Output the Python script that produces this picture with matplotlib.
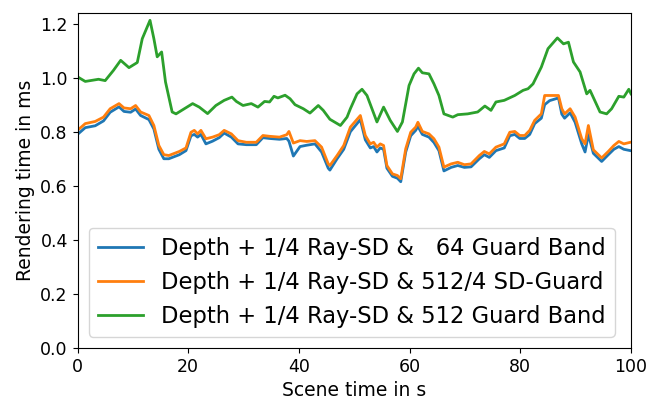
import matplotlib
matplotlib.use("Agg")
import matplotlib.pyplot as plt

# Green series: Depth + 1/4 Ray-SD & 512 Guard Band
x_green = [0, 1.4, 3.8, 5, 6.5, 7.8, 9.3, 10.8, 11.7, 13.1, 13.8, 14.4, 15.2, 15.9, 17.1, 17.8,
           20.8, 22, 23.5, 25, 26.5, 27.9, 28.7, 29.9, 31.4, 32.6, 33.8, 34.7, 35.5, 36.2, 37.5,
           38.4, 39.3, 40.8, 42, 43.5, 44.4, 45.6, 47.5, 48.7, 49.3, 50.5, 51.4, 52.3, 54.1, 55.3,
           56.5, 57.8, 58.7, 59.9, 60.8, 61.6, 62.3, 63.5, 64.4, 65.3, 66.2, 67.8, 68.7, 70.5,
           72.3, 73.6, 74.7, 75.6, 77.1, 79.0, 80.5, 81.4, 82.3, 83.8, 85.0, 86.7, 87.8, 88.7,
           89.6, 90.8, 92.0, 92.6, 94.4, 95.6, 96.5, 97.8, 98.7, 99.6, 100]
y_green = [1.003, 0.986, 0.994, 0.989, 1.027, 1.064, 1.037, 1.056, 1.144, 1.212, 1.144, 1.077,
           1.095, 0.984, 0.873, 0.866, 0.904, 0.891, 0.867, 0.897, 0.916, 0.928, 0.912, 0.897,
           0.904, 0.891, 0.912, 0.910, 0.931, 0.925, 0.935, 0.922, 0.900, 0.885, 0.869, 0.897,
           0.879, 0.846, 0.823, 0.854, 0.885, 0.940, 0.957, 0.934, 0.836, 0.891, 0.842, 0.801,
           0.836, 0.971, 1.014, 1.035, 1.018, 1.014, 0.977, 0.934, 0.866, 0.854, 0.863, 0.866,
           0.873, 0.895, 0.879, 0.910, 0.916, 0.934, 0.953, 0.959, 0.977, 1.039, 1.107, 1.147,
           1.125, 1.131, 1.058, 1.021, 0.940, 0.953, 0.873, 0.866, 0.885, 0.931, 0.928, 0.957,
           0.940]

# Orange and blue series share sample times
x_ob = [0, 1.4, 3.2, 4.7, 5.9, 7.5, 8.4, 9.6, 10.5, 11.4, 12.9, 13.8, 14.7, 15.6, 16.5, 18.4,
        19.6, 20.5, 21.1, 21.7, 22.3, 23.2, 24.4, 25.6, 26.5, 27.8, 29.0, 30.5, 32.3, 33.5,
        34.7, 36.5, 37.8, 38.2, 39.0, 40.2, 41.4, 42.9, 44.1, 45.3, 45.6, 46.9, 48.1, 49.3,
        51.1, 52.0, 52.9, 53.5, 54.1, 54.7, 55.3, 55.9, 56.9, 57.8, 58.4, 59.3, 60.2, 61.1,
        61.5, 62.3, 63.5, 64.4, 65.3, 66.2, 67.5, 68.7, 69.9, 71.1, 72.6, 73.5, 74.4, 75.6,
        77.1, 78.1, 79.0, 79.9, 80.8, 81.7, 82.6, 83.8, 84.4, 85.3, 86.9, 87.5, 88.0, 89.0,
        89.9, 91.1, 91.7, 92.3, 93.2, 94.7, 95.9, 96.9, 97.8, 98.7, 99.9]
y_orange = [0.805, 0.830, 0.838, 0.854, 0.885, 0.904, 0.888, 0.885, 0.897, 0.873, 0.860, 0.823,
            0.749, 0.715, 0.712, 0.727, 0.740, 0.798, 0.805, 0.792, 0.805, 0.774, 0.780, 0.789,
            0.805, 0.792, 0.767, 0.761, 0.761, 0.786, 0.783, 0.780, 0.789, 0.801, 0.758, 0.767,
            0.764, 0.767, 0.743, 0.681, 0.675, 0.712, 0.749, 0.817, 0.860, 0.786, 0.755, 0.761,
            0.743, 0.755, 0.749, 0.675, 0.644, 0.638, 0.626, 0.737, 0.798, 0.817, 0.835, 0.801,
            0.792, 0.774, 0.743, 0.669, 0.681, 0.687, 0.678, 0.681, 0.712, 0.727, 0.718, 0.743,
            0.755, 0.798, 0.801, 0.786, 0.786, 0.805, 0.842, 0.866, 0.934, 0.934, 0.934, 0.885,
            0.866, 0.885, 0.854, 0.774, 0.755, 0.823, 0.733, 0.703, 0.727, 0.749, 0.764, 0.755,
            0.761]
y_blue = [0.790, 0.815, 0.822, 0.840, 0.872, 0.892, 0.875, 0.872, 0.884, 0.860, 0.845, 0.810,
          0.735, 0.700, 0.700, 0.715, 0.730, 0.785, 0.790, 0.780, 0.790, 0.755, 0.765, 0.778,
          0.795, 0.780, 0.755, 0.752, 0.752, 0.778, 0.775, 0.772, 0.775, 0.765, 0.710, 0.745,
          0.750, 0.755, 0.725, 0.665, 0.658, 0.700, 0.735, 0.800, 0.845, 0.770, 0.740, 0.745,
          0.725, 0.740, 0.735, 0.665, 0.635, 0.628, 0.615, 0.725, 0.785, 0.805, 0.820, 0.790,
          0.780, 0.760, 0.730, 0.655, 0.668, 0.675, 0.668, 0.670, 0.700, 0.715, 0.705, 0.730,
          0.740, 0.785, 0.790, 0.775, 0.775, 0.790, 0.830, 0.850, 0.900, 0.915, 0.925, 0.865,
          0.850, 0.870, 0.835, 0.755, 0.725, 0.790, 0.720, 0.690, 0.715, 0.735, 0.745, 0.735,
          0.730]

labels = ["Depth + 1/4 Ray-SD &   64 Guard Band",
          "Depth + 1/4 Ray-SD & 512/4 SD-Guard",
          "Depth + 1/4 Ray-SD & 512 Guard Band"]

fig = plt.figure(figsize=(6.5, 4.03), dpi=100)
ax = fig.add_axes([77.5/650, 55/403, 553.5/650, 334.7/403])
ax.plot(x_ob, y_blue, color="#1f77b4", lw=2, label=labels[0])
ax.plot(x_ob, y_orange, color="#ff7f0e", lw=2, label=labels[1])
ax.plot(x_green, y_green, color="#2ca02c", lw=2, label=labels[2])

ax.set_xlim(0, 100)
ax.set_ylim(0, 1.238)
ax.set_xticks([0, 20, 40, 60, 80, 100])
ax.set_yticks([0.0, 0.2, 0.4, 0.6, 0.8, 1.0, 1.2])
ax.tick_params(labelsize=12.5)
ax.set_xlabel("Scene time in s", fontsize=13.5)
ax.set_ylabel("Rendering time in ms", fontsize=13.5)
ax.legend(loc="lower left", fontsize=16.3, labelspacing=0.48)

fig.savefig("out.png", dpi=100)
